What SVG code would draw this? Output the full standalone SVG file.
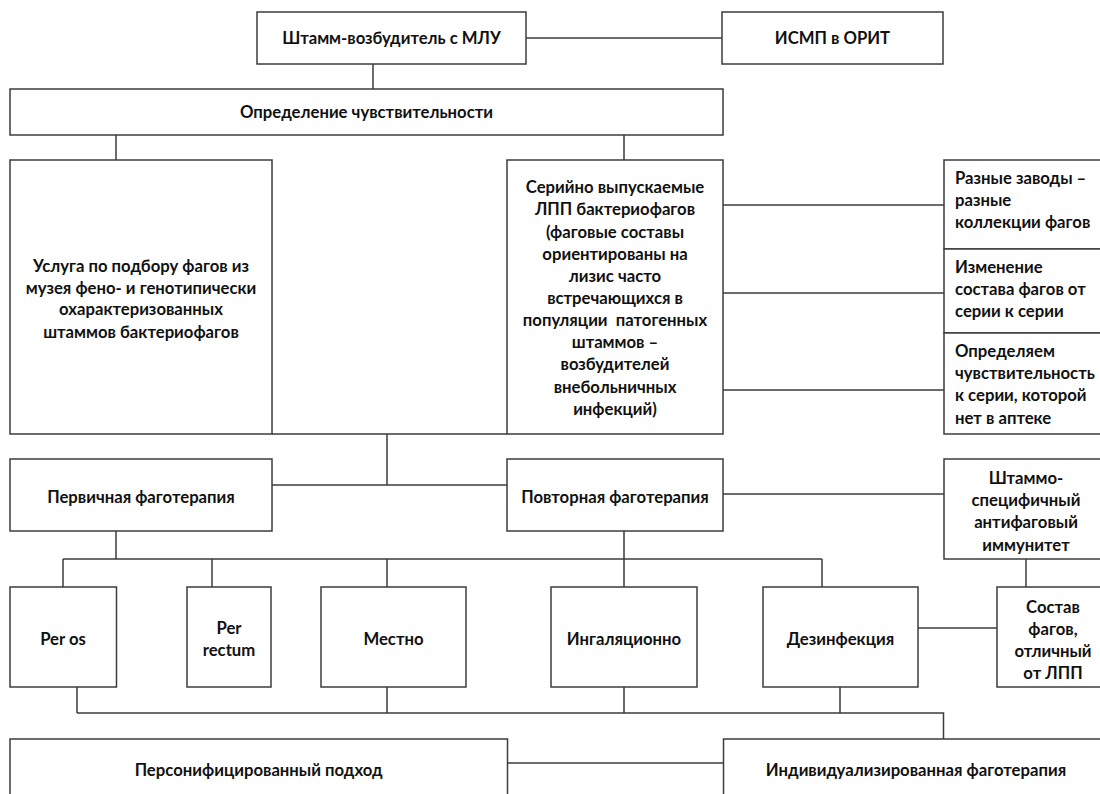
<svg xmlns="http://www.w3.org/2000/svg" width="1100" height="794" viewBox="0 0 1100 794">
<style>
rect{fill:#fff;stroke:#3c3c3c;stroke-width:1.5}
text{font-family:Lato,"Noto Sans",sans-serif;font-weight:bold;font-size:16.7px;fill:#111;text-anchor:middle}
text.l{text-anchor:start}
#conn path{fill:none;stroke:#3c3c3c;stroke-width:1.5}
</style>
<rect x="0" y="0" width="1100" height="794" style="stroke:none"/>
<g id="conn">
<path d="M526,38H722"/>
<path d="M373,64V89"/>
<path d="M116,135V160M624,135V160"/>
<path d="M723,205H944M723,293H944M723,390H944"/>
<path d="M272,434H507M387,434V485M272,485H507"/>
<path d="M723,494H944"/>
<path d="M116,531V559M63,559H822M63,559V587M212,559V587M387,559V587M822,559V587M624,531V587"/>
<path d="M1026,559V587"/>
<path d="M918,628H997"/>
<path d="M77,687V713M387,687V713M624,687V713M840,687V713M77,713H943.5V739"/>
<path d="M507.5,763H723.5"/>
</g>
<g id="n1"><rect x="257" y="12" width="269" height="52"/><text x="391.5" y="44">Штамм-возбудитель с МЛУ</text></g>
<g id="n2"><rect x="722" y="12" width="221" height="52"/><text x="832.5" y="44">ИСМП в ОРИТ</text></g>
<g id="n3"><rect x="10" y="89" width="713" height="46"/><text x="366.5" y="118">Определение чувствительности</text></g>
<g id="n4"><rect x="10" y="160" width="262" height="274"/>
<text x="141" y="272">Услуга по подбору фагов из</text>
<text x="141" y="294">музея фено- и генотипически</text>
<text x="141" y="315">охарактеризованных</text>
<text x="141" y="338">штаммов бактериофагов</text></g>
<g id="n5"><rect x="507" y="160" width="216" height="274"/>
<text x="615" y="193">Серийно выпускаемые</text>
<text x="615" y="215">ЛПП бактериофагов</text>
<text x="615" y="238">(фаговые составы</text>
<text x="615" y="260">ориентированы на</text>
<text x="615" y="282">лизис часто</text>
<text x="615" y="304">встречающихся в</text>
<text x="615" y="326">популяции&#160; патогенных</text>
<text x="615" y="348">штаммов –</text>
<text x="615" y="370">возбудителей</text>
<text x="615" y="393">внебольничных</text>
<text x="615" y="415">инфекций)</text></g>
<g id="n6"><rect x="944" y="160" width="165" height="89"/>
<text class="l" x="955" y="184">Разные заводы –</text>
<text class="l" x="955" y="206">разные</text>
<text class="l" x="955" y="228">коллекции фагов</text></g>
<g id="n7"><rect x="944" y="249" width="165" height="84"/>
<text class="l" x="955" y="273">Изменение</text>
<text class="l" x="955" y="295">состава фагов от</text>
<text class="l" x="955" y="317">серии к серии</text></g>
<g id="n8"><rect x="944" y="333" width="165" height="101"/>
<text class="l" x="955" y="357">Определяем</text>
<text class="l" x="955" y="379">чувствительность</text>
<text class="l" x="955" y="401">к серии, которой</text>
<text class="l" x="955" y="424">нет в аптеке</text></g>
<g id="n9"><rect x="10" y="459" width="262" height="72"/><text x="141" y="503">Первичная фаготерапия</text></g>
<g id="n10"><rect x="507" y="459" width="216" height="72"/><text x="615" y="503">Повторная фаготерапия</text></g>
<g id="n11"><rect x="944" y="459" width="165" height="100"/>
<text x="1026" y="484">Штаммо-</text>
<text x="1026" y="506">специфичный</text>
<text x="1026" y="528">антифаговый</text>
<text x="1026" y="551">иммунитет</text></g>
<g id="n12"><rect x="10" y="587" width="106.5" height="100"/><text x="63" y="645">Per os</text></g>
<g id="n13"><rect x="187" y="587" width="84" height="100"/><text x="229" y="634">Per</text><text x="229" y="656">rectum</text></g>
<g id="n14"><rect x="321" y="587" width="145" height="100"/><text x="393.5" y="645">Местно</text></g>
<g id="n15"><rect x="551" y="587" width="146" height="100"/><text x="624" y="645">Ингаляционно</text></g>
<g id="n16"><rect x="763" y="587" width="155" height="100"/><text x="840.5" y="645">Дезинфекция</text></g>
<g id="n17"><rect x="997" y="587" width="112" height="100"/>
<text x="1053" y="613">Состав</text>
<text x="1053" y="635">фагов,</text>
<text x="1053" y="657">отличный</text>
<text x="1053" y="679">от ЛПП</text></g>
<g id="n18"><rect x="10" y="739" width="497.5" height="64"/><text x="258.7" y="776">Персонифицированный подход</text></g>
<g id="n19"><rect x="723.5" y="739" width="386" height="64"/><text x="916" y="776">Индивидуализированная фаготерапия</text></g>
</svg>
